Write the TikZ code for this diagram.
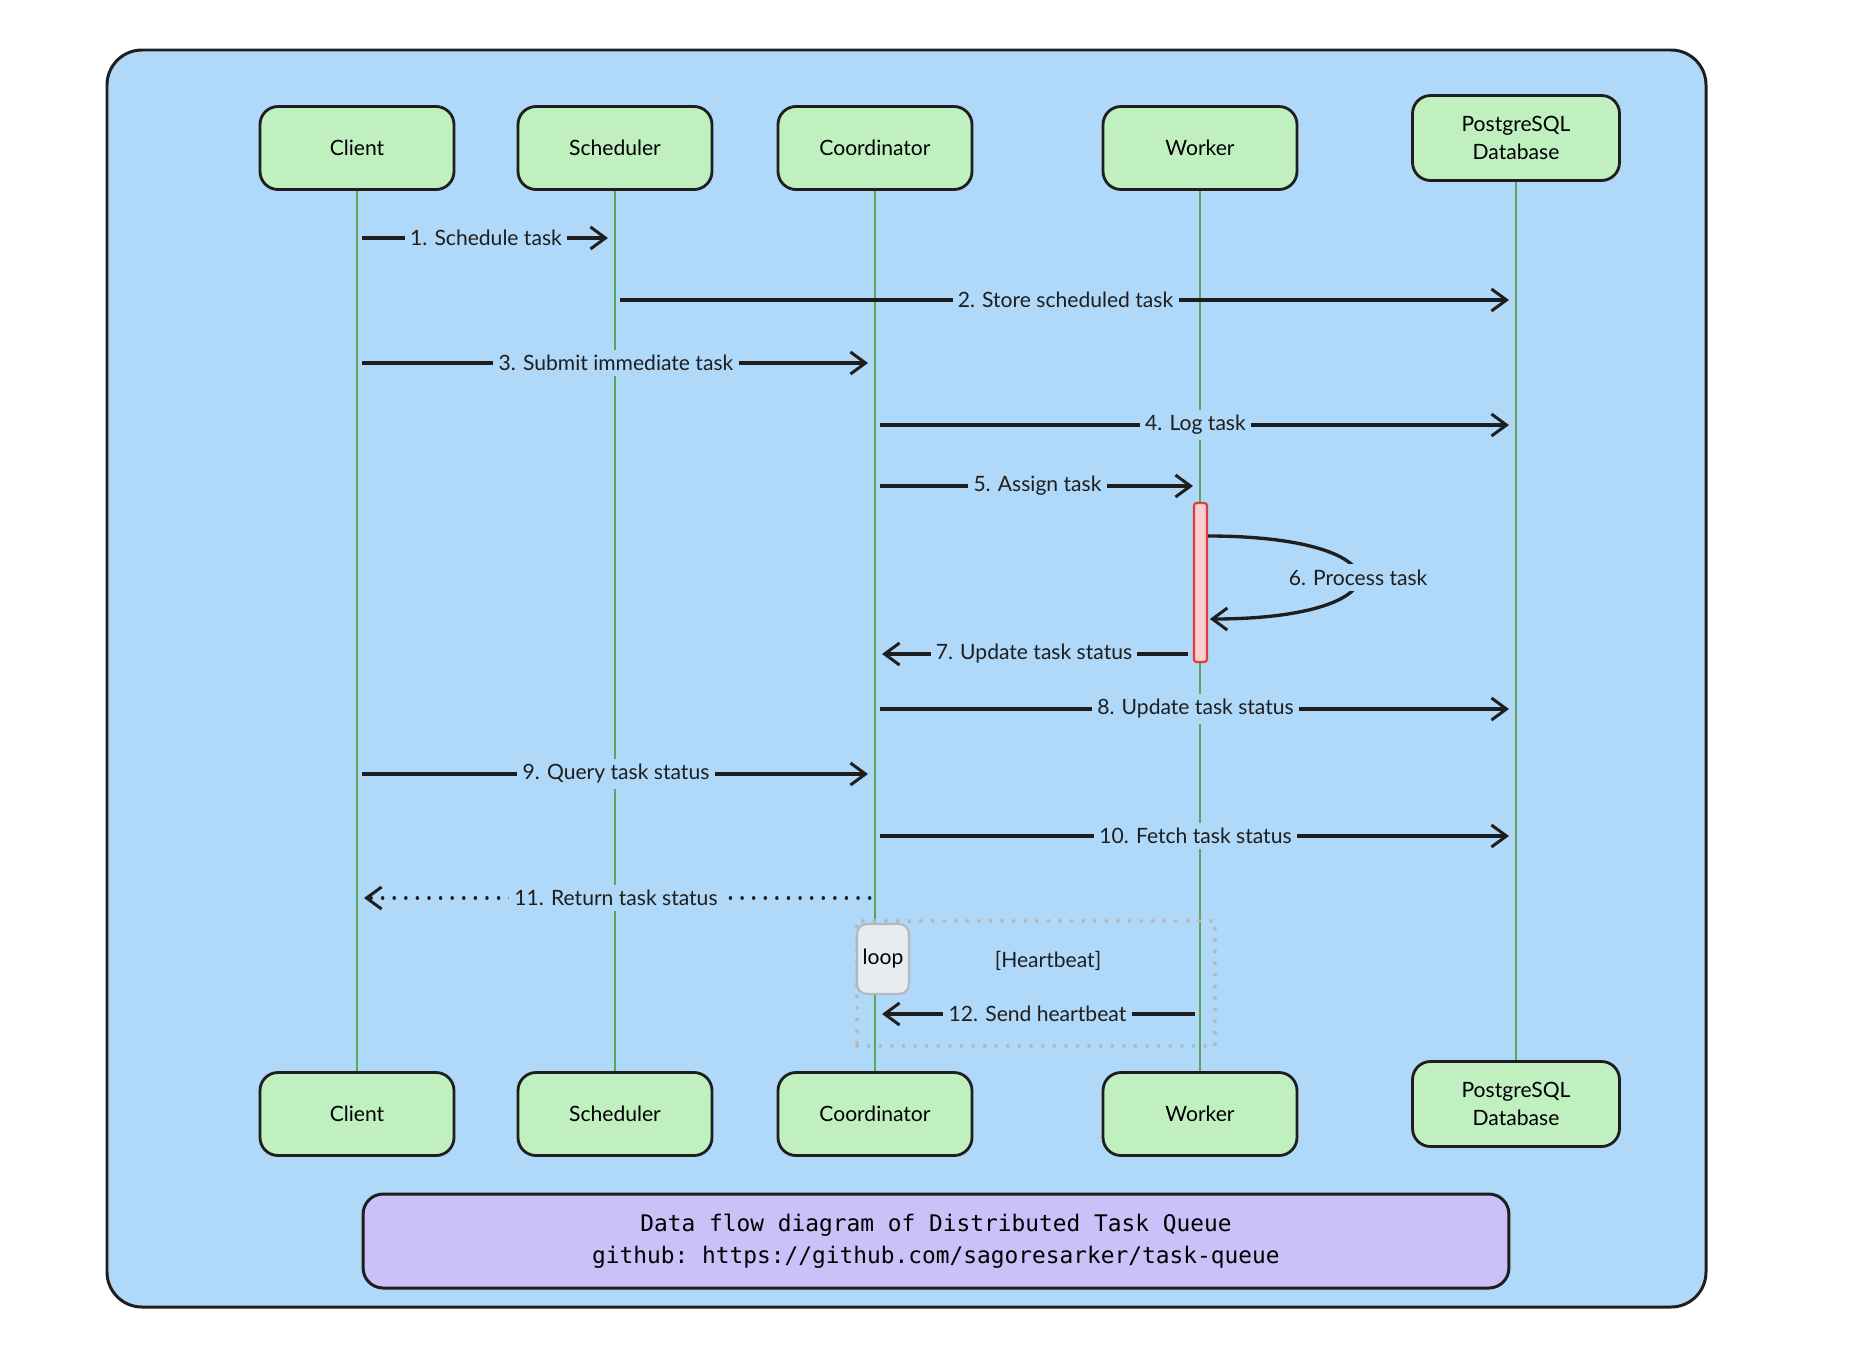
\documentclass[tikz,border=0pt]{standalone}
\usepackage{fontspec}
\setmainfont{Lato}
\setmonofont{DejaVu Sans Mono}
\usetikzlibrary{arrows.meta, positioning}

\definecolor{skyblue}{HTML}{B0D8F8}
\definecolor{actorgreen}{HTML}{C0F0C0}
\definecolor{lifegreen}{HTML}{5AA55A}
\definecolor{notepurple}{HTML}{CCC0F8}
\definecolor{actpink}{HTML}{FCCFCF}
\definecolor{actred}{HTML}{E03C3C}
\definecolor{loopgray}{HTML}{E8ECEF}
\definecolor{loopedge}{HTML}{B4B8BC}
\definecolor{ink}{HTML}{1E1E1E}

\begin{document}
\begin{tikzpicture}[x=0.02cm, y=-0.02cm,
  actor/.style={draw=ink, fill=actorgreen, line width=1.6pt, rounded corners=0.36cm,
    minimum width=3.88cm, minimum height=1.66cm, align=center,
    font=\fontsize{12}{16}\selectfont},
  life/.style={draw=lifegreen, line width=0.8pt},
  msg/.style={draw=ink, line width=1.9pt, shorten <=3pt, shorten >=4pt,
    -{Straight Barb[length=0.3cm, width=0.44cm, line width=1.7pt]}},
  ret/.style={dash pattern=on 0.1pt off 6.5pt, line cap=round},
  lbl/.style={fill=skyblue, inner sep=3pt, text=ink, font=\fontsize{12}{14}\selectfont}]
  \useasboundingbox[fill=white] (0,0) rectangle (1868,1346);
  \draw[ink, fill=skyblue, line width=1.7pt, rounded corners=0.7cm] (107,50) rectangle (1706,1307);

  % participants
  \node[actor] (client)  at (357,148)  {Client};
  \node[actor] (sched)   at (615,148)  {Scheduler};
  \node[actor] (coord)   at (875,148)  {Coordinator};
  \node[actor] (worker)  at (1200,148) {Worker};
  \node[actor, minimum width=4.14cm, minimum height=1.7cm]
               (db)      at (1516,138) {PostgreSQL\\Database};
  \node[actor] (client2) at (357,1114)  {Client};
  \node[actor] (sched2)  at (615,1114)  {Scheduler};
  \node[actor] (coord2)  at (875,1114)  {Coordinator};
  \node[actor] (worker2) at (1200,1114) {Worker};
  \node[actor, minimum width=4.14cm, minimum height=1.7cm]
               (db2)     at (1516,1104) {PostgreSQL\\Database};

  % lifelines
  \foreach \p in {client, sched, coord, worker, db}
    \draw[life] (\p.south) -- (\p2.north);

  % activation of the worker
  \node[draw=actred, fill=actpink, line width=1.2pt, rounded corners=1.5pt, inner sep=0pt,
    minimum width=0.26cm, minimum height=3.18cm] (act) at (1200.5,582.5) {};

  % heartbeat loop
  \node[draw=loopedge, line width=2pt, ret, minimum width=7.16cm, minimum height=2.5cm]
    (hb) at (1036,983.5) {};
  \node[draw=loopedge, fill=loopgray, line width=1.2pt, rounded corners=0.2cm,
    minimum width=1.04cm, minimum height=1.4cm, inner sep=0pt,
    font=\fontsize{12}{14}\selectfont] (looptag) at (883,959) {loop};
  \node[lbl, fill=none] (cond) at (1048,961) {[Heartbeat]};

  \path[every edge/.style={msg}]
    (client |- 0,238)  edge node[lbl] {1. Schedule task} (sched |- 0,238)
    (sched |- 0,300)   edge node[lbl] {2. Store scheduled task} (db |- 0,300)
    (client |- 0,363)  edge node[lbl] {3. Submit immediate task} (coord |- 0,363)
    (coord |- 0,425)   edge node[lbl] {4. Log task} (db |- 0,425)
    (coord |- 0,486)   edge node[lbl] {5. Assign task} (worker |- 0,486)
    (act.west |- 0,654) edge node[lbl] {7. Update task status} (coord |- 0,654)
    (coord |- 0,709)   edge node[lbl] {8. Update task status} (db |- 0,709)
    (client |- 0,774)  edge node[lbl] {9. Query task status} (coord |- 0,774)
    (coord |- 0,836)   edge node[lbl] {10. Fetch task status} (db |- 0,836)
    (coord |- 0,898)   edge[ret] node[lbl] {11. Return task status} (client |- 0,898)
    (worker |- 0,1014) edge node[lbl] {12. Send heartbeat} (coord |- 0,1014);
  % self call on the worker
  \draw[msg, shorten <=0pt, shorten >=1pt] (act.east |- 0,536)
    .. controls +(200,0) and +(200,0) .. (act.east |- 0,619)
    node[lbl, pos=0.5] {6. Process task};

  % caption
  \node[draw=ink, fill=notepurple, line width=1.7pt, rounded corners=0.4cm,
    minimum width=22.92cm, minimum height=1.88cm, align=center,
    font=\ttfamily\fontsize{13}{18}\selectfont] (note) at (936,1241)
    {Data flow diagram of Distributed Task Queue\\github: https://github.com/sagoresarker/task-queue};
\end{tikzpicture}
\end{document}
